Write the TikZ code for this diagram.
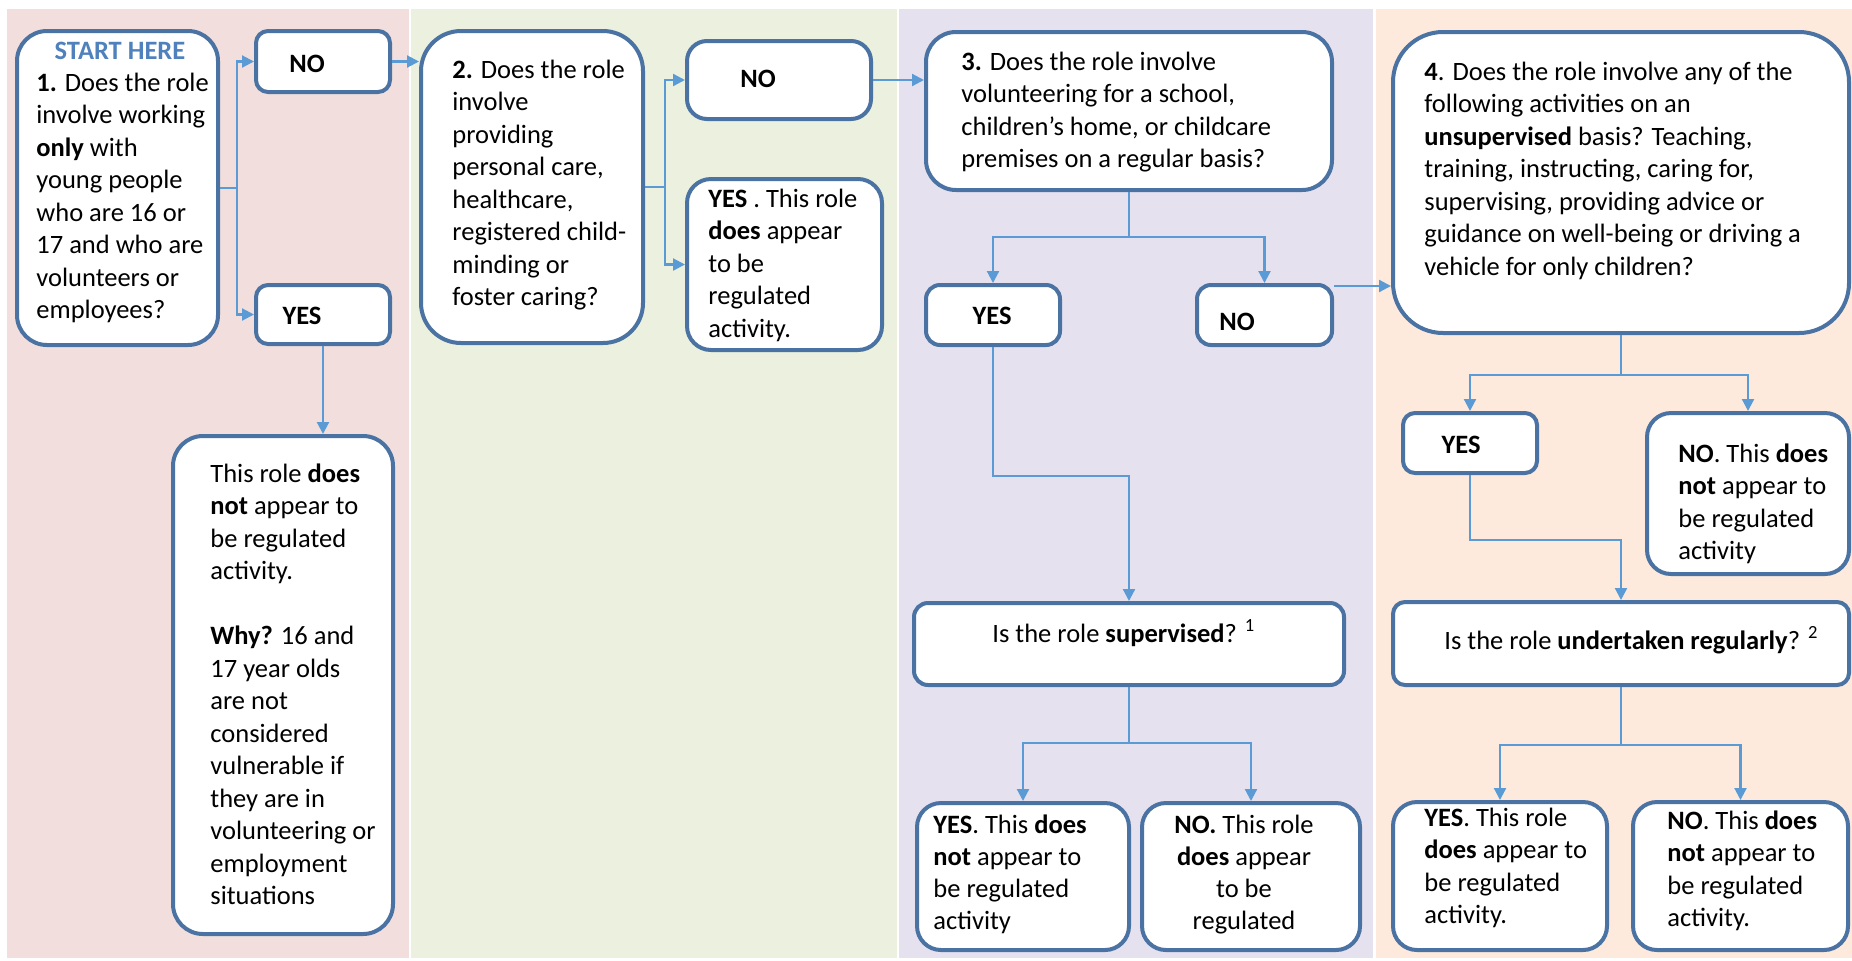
\documentclass[tikz,border=0pt]{standalone}
\usepackage{fontspec}
\setmainfont{Carlito}
\usetikzlibrary{fit,arrows.meta,calc}
\definecolor{pA}{HTML}{F2DFDD}
\definecolor{pB}{HTML}{EBF1DE}
\definecolor{pC}{HTML}{E6E1EE}
\definecolor{pD}{HTML}{FDEADC}
\definecolor{bd}{HTML}{4A72A3}
\definecolor{ar}{HTML}{5B9BD5}
\definecolor{st}{HTML}{4F81BD}
\newcommand\fst{\rule{0pt}{11pt}}
\tikzset{
 box/.style={draw=bd, line width=2pt, fill=white, inner sep=0pt},
 conn/.style={draw=ar, line width=1.1pt},
 arr/.style={conn, -{Triangle[length=6pt,width=6pt]}},
 txt/.style={inner sep=0pt, anchor=north west, align=left, font=\fontsize{13.25}{16.25}\selectfont},
 one/.style={inner sep=0pt, anchor=base west, font=\fontsize{13.25}{16}\selectfont},
 onec/.style={one, anchor=base},
}
\begin{document}
\begin{tikzpicture}[x=0.5pt,y=-0.5pt]
\useasboundingbox (0,0) rectangle (1852,960);
% panels
\fill[pA] (7,9) rectangle (409,958);
\fill[pB] (411,9) rectangle (897,958);
\fill[pC] (899,9) rectangle (1373,958);
\fill[pD] (1376,9) rectangle (1852,958);

% boxes
\node[box, rounded corners=15pt, fit={(17,31)(218,345)}] (q1) {};
\node[box, rounded corners=6pt, fit={(256,31)(390,92)}] (no1) {};
\node[box, rounded corners=6pt, fit={(256,285)(390,344)}] (yes1) {};
\node[box, rounded corners=15pt, fit={(173,436)(393,934)}] (n1) {};
\node[box, rounded corners=20pt, fit={(421,31)(643,343)}] (q2) {};
\node[box, rounded corners=10pt, fit={(687,41)(871,119)}] (no2) {};
\node[box, rounded corners=12pt, fit={(687,179)(882,350)}] (yes2) {};
\node[box, rounded corners=15pt, fit={(926,32)(1332,190)}] (q3) {};
\node[box, rounded corners=7pt, fit={(926,285)(1060,345)}] (yes3) {};
\node[box, rounded corners=7pt, fit={(1197,285)(1332,345)}] (no3) {};
\node[box, rounded corners=7pt, fit={(914,603)(1344,685)}] (q5) {};
\node[box, rounded corners=12pt, fit={(917,803)(1129,950)}] (r3a) {};
\node[box, rounded corners=12pt, fit={(1142,803)(1360,950)}] (r3b) {};
\node[box, rounded corners=25pt, fit={(1393,32)(1849,333)}] (q4) {};
\node[box, rounded corners=6pt, fit={(1403,413)(1537,473)}] (yes4) {};
\node[box, rounded corners=12pt, fit={(1647,413)(1849,574)}] (no4) {};
\node[box, rounded corners=6pt, fit={(1393,602)(1849,685)}] (q6) {};
\node[box, rounded corners=12pt, fit={(1393,802)(1607,950)}] (r4a) {};
\node[box, rounded corners=12pt, fit={(1633,802)(1848,950)}] (r4b) {};

% texts
\node[onec, font=\fontsize{13.25}{16}\selectfont\bfseries, text=st] (start) at (120,59) {START HERE};
\node[txt] (q1t) at (36,69) {\fst\textbf{1.} Does the role\\involve working\\\textbf{only} with\\young people\\who are 16 or\\17 and who are\\volunteers or\\employees?};
\node[onec] (no1t) at (307,72) {\textbf{NO}};
\node[onec] (yes1t) at (302,324) {\textbf{YES}};
\node[txt] (n1t) at (210,460) {\fst This role \textbf{does}\\\textbf{not} appear to\\be regulated\\activity.\\[16.25pt]\textbf{Why?} 16 and\\17 year olds\\are not\\considered\\vulnerable if\\they are in\\volunteering or\\employment\\situations};
\node[txt] (q2t) at (452,56) {\fst\textbf{2.} Does the role\\involve\\providing\\personal care,\\healthcare,\\registered child-\\minding or\\foster caring?};
\node[onec] (no2t) at (758,87) {\textbf{NO}};
\node[txt] (yes2t) at (708,185) {\fst\textbf{YES} . This role\\\textbf{does} appear\\to be\\regulated\\activity.};
\node[txt] (q3t) at (961,48) {\fst\textbf{3.} Does the role involve\\volunteering for a school,\\children’s home, or childcare\\premises on a regular basis?};
\node[onec] (yes3t) at (992,324) {\textbf{YES}};
\node[onec] (no3t) at (1237,330) {\textbf{NO}};
\node[one] (q5t) at (992,642) {Is the role \textbf{supervised}? \textsuperscript{1}};
\node[txt, font=\fontsize{13.25}{16}\selectfont] (r3at) at (933,811) {\fst\textbf{YES}. This \textbf{does}\\\textbf{not} appear to\\be regulated\\activity};
\node[txt, anchor=north, align=center, font=\fontsize{13.25}{16}\selectfont] (r3bt) at (1244,811) {\fst\textbf{NO.} This role\\\textbf{does} appear\\to be\\regulated};
\node[txt] (q4t) at (1424,58) {\fst\textbf{4}. Does the role involve any of the\\following activities on an\\\textbf{unsupervised} basis? Teaching,\\training, instructing, caring for,\\supervising, providing advice or\\guidance on well-being or driving a\\vehicle for only children?};
\node[onec] (yes4t) at (1461,453) {\textbf{YES}};
\node[txt] (no4t) at (1678,440) {\fst\textbf{NO}. This \textbf{does}\\\textbf{not} appear to\\be regulated\\activity};
\node[one] (q6t) at (1444,649) {Is the role \textbf{undertaken regularly}? \textsuperscript{2}};
\node[txt] (r4at) at (1424,804) {\fst\textbf{YES}. This role\\\textbf{does} appear to\\be regulated\\activity.};
\node[txt] (r4bt) at (1667,807) {\fst\textbf{NO}. This \textbf{does}\\\textbf{not} appear to\\be regulated\\activity.};

% connectors
\coordinate (s1) at (237,188);
\draw[conn] (q1.east) -- (s1);
\draw[arr] (s1) |- (no1.west);
\draw[arr] (s1) |- (yes1.west);
\draw[arr] (no1.east) -- (no1.east -| q2.west);
\draw[arr] (yes1.south) -- (yes1.south |- n1.north);

\coordinate (s2) at (665,187);
\draw[conn] (q2.east) -- (s2);
\draw[arr] (s2) |- (no2.west);
\draw[arr] (s2) |- (yes2.west);
\draw[arr] (no2.east) -- (no2.east -| q3.west);

\coordinate (s3) at (1129,237);
\draw[conn] (q3.south) -- (s3);
\draw[arr] (s3) -| (yes3.north);
\draw[arr] (s3) -| (no3.north);
\coordinate (n3o) at ($(no3.north east)+(0,3)$);
\draw[arr] (n3o) -- (n3o -| q4.west);
\draw[arr] (yes3.south) -- ++(0,129) -| (q5.north);

\coordinate (s5) at (1129,743);
\draw[conn] (q5.south) -- (s5);
\draw[arr] (s5) -| (r3a.north);
\draw[arr] (s5) -| (r3b.north);

\coordinate (s4) at (1621,375);
\draw[conn] (q4.south) -- (s4);
\draw[arr] (s4) -| (yes4.north);
\draw[arr] (s4) -| (no4.north);
\draw[arr] (yes4.south) -- ++(0,65) -| (q6.north);

\coordinate (s6) at (1621,745);
\draw[conn] (q6.south) -- (s6);
\draw[arr] (s6) -| (r4a.north);
\draw[arr] (s6) -| (r4b.north);
\end{tikzpicture}
\end{document}
